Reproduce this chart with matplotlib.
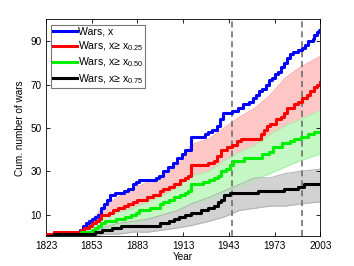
import matplotlib
matplotlib.use('Agg')
import matplotlib.pyplot as plt

plt.rcParams['font.family'] = ['Liberation Sans', 'DejaVu Sans']
plt.rcParams['mathtext.default'] = 'regular'

# cumulative counts (step data)
blue_years = [1823, 1828, 1845, 1847, 1849, 1851, 1853, 1855, 1857, 1859, 1861, 1863, 1865, 1868,
              1874, 1877, 1880, 1882, 1884, 1895, 1897, 1900, 1903, 1906, 1909, 1912, 1914, 1918,
              1927, 1929, 1932, 1935, 1937, 1939, 1945, 1949, 1952, 1956, 1959, 1961, 1963, 1965,
              1967, 1969, 1971, 1973, 1975, 1977, 1979, 1981, 1983, 1985, 1988, 1991, 1993, 1995,
              1998, 1999, 2001, 2002, 2003]
blue_vals = [1, 2, 3, 5, 6, 7, 8, 9, 10, 13, 15, 17, 19, 20,
             21, 22, 24, 25, 26, 27, 28, 30, 32, 34, 36, 38, 40, 46,
             47, 48, 49, 51, 54, 57, 58, 59, 61, 62, 64, 65, 67, 68,
             70, 72, 73, 75, 76, 78, 80, 82, 84, 85, 86, 87, 88, 90,
             91, 93, 94, 95, 95]

red_years = [1823, 1828, 1846, 1848, 1851, 1853, 1856, 1858, 1859, 1864, 1867, 1870, 1874, 1877,
             1880, 1883, 1889, 1893, 1898, 1900, 1904, 1907, 1911, 1914, 1916, 1918, 1929, 1933,
             1935, 1938, 1942, 1945, 1948, 1951, 1964, 1966, 1968, 1970, 1974, 1977, 1979, 1981,
             1986, 1988, 1991, 1994, 1996, 1999, 2001, 2003]
red_vals = [1, 2, 3, 4, 5, 6, 7, 8, 10, 11, 12, 13, 14, 15,
            16, 17, 18, 19, 21, 22, 23, 24, 26, 27, 28, 33, 34, 35,
            37, 40, 41, 42, 44, 45, 47, 49, 51, 52, 54, 55, 57, 59,
            61, 62, 64, 65, 67, 69, 70, 71]

green_years = [1823, 1828, 1846, 1853, 1855, 1857, 1859, 1862, 1869, 1875, 1879, 1882, 1884, 1891,
               1898, 1900, 1904, 1907, 1911, 1914, 1916, 1918, 1926, 1930, 1933, 1936, 1938, 1941,
               1944, 1946, 1953, 1965, 1969, 1972, 1978, 1983, 1986, 1990, 1995, 1999, 2003]
green_vals = [0, 1, 2, 3, 4, 5, 6, 7, 8, 9, 10, 11, 12, 13,
              15, 16, 17, 18, 19, 20, 21, 24, 25, 26, 27, 28, 30, 31,
              33, 35, 36, 38, 39, 41, 43, 44, 45, 46, 47, 48, 48]

black_years = [1823, 1828, 1855, 1860, 1866, 1872, 1898, 1904, 1907, 1910, 1914, 1918, 1925, 1929,
               1933, 1936, 1938, 1940, 1944, 1962, 1979, 1988, 1992, 2003]
black_vals = [0, 1, 2, 3, 4, 5, 6, 7, 8, 9, 10, 11, 12, 13,
              14, 16, 17, 19, 20, 21, 22, 23, 24, 24]

# envelopes of the resampled curves
band_years = [1823, 1845, 1850, 1855, 1860, 1870, 1880, 1890, 1900, 1910, 1918, 1930, 1940,
              1950, 1960, 1970, 1980, 1990, 2003]
pink_hi = [1, 2, 6, 9, 13, 18, 22, 25, 28, 33, 42, 45, 50, 55, 59, 65, 73, 78, 83]
pink_lo = [1, 1, 3, 5, 7, 10, 12, 14, 17, 20, 24, 27, 31, 35, 38, 43, 48, 52, 58]
green_hi = [0, 1, 3, 5, 9, 11, 13, 16, 19, 23, 28, 30, 35, 39, 42, 47, 51, 54, 58]
green_lo = [0, 1, 1, 2, 3, 5, 6, 8, 10, 12, 15, 17, 20, 23, 26, 29, 32, 35, 38]
gray_hi = [0, 1, 1, 3, 4, 6, 7, 8, 10, 12, 15, 18, 21, 24, 27, 27, 29, 30, 31]
gray_lo = [0, 0, 0, 0, 1, 1, 2, 2, 3, 4, 5, 7, 9, 12, 13, 14, 14, 15, 16]

marker_years = [1945, 1991]
labels = ['Wars, x', 'Wars, x\u2265 x$_{0.25}$', 'Wars, x\u2265 x$_{0.50}$', 'Wars, x\u2265 x$_{0.75}$']

fig = plt.figure(figsize=(3.54, 2.66), dpi=100)
ax = fig.add_axes([0.13, 0.111, 0.775, 0.816])

# bands
ax.fill_between(band_years, pink_lo, pink_hi, color='#ffc6c6', lw=0)
ax.plot(band_years, pink_hi, color='#ffaaaa', lw=0.8)
ax.fill_between(band_years, green_lo, green_hi, color='#c4f7c4', lw=0)
ax.plot(band_years, green_hi, color='#a8f0a8', lw=0.8)
ax.plot(band_years, green_lo, color='#a8f0a8', lw=0.8)
ax.fill_between(band_years, gray_lo, gray_hi, color='#d2d2d2', lw=0)
ax.plot(band_years, gray_hi, color='#b4b4b4', lw=0.8)
ax.plot(band_years, gray_lo, color='#b4b4b4', lw=0.8)

for yr in marker_years:
    ax.axvline(yr, color='#666666', ls=(0, (4, 2.5)), lw=1.1, zorder=3)

ax.plot(blue_years, blue_vals, drawstyle='steps-post', color='#0000ff', lw=2.2, label=labels[0], zorder=5)
ax.plot(red_years, red_vals, drawstyle='steps-post', color='#ff0000', lw=2.2, label=labels[1], zorder=5)
ax.plot(green_years, green_vals, drawstyle='steps-post', color='#00ee00', lw=2.2, label=labels[2], zorder=5)
ax.plot(black_years, black_vals, drawstyle='steps-post', color='#000000', lw=2.2, label=labels[3], zorder=5)

ax.set_xlim(1823, 2003)
ax.set_ylim(0, 100)
ax.set_xticks(range(1823, 2004, 30))
ax.set_yticks([10, 30, 50, 70, 90])
ax.tick_params(direction='in', length=3, width=0.6, labelsize=7.2, top=True, right=True, pad=3)
for s in ax.spines.values():
    s.set_linewidth(0.6)
ax.set_xlabel('Year', fontsize=7.2, labelpad=1)
ax.set_ylabel('Cum. number of wars', fontsize=7.2, labelpad=4)

leg = ax.legend(loc='upper left', fontsize=7.6, frameon=True, fancybox=False, handlelength=2.2,
                handletextpad=0.1, labelspacing=0.25, borderpad=0.2, borderaxespad=0.5)
leg.get_frame().set_edgecolor('#555555')
leg.get_frame().set_linewidth(0.8)

fig.savefig('out.png', dpi=100)
